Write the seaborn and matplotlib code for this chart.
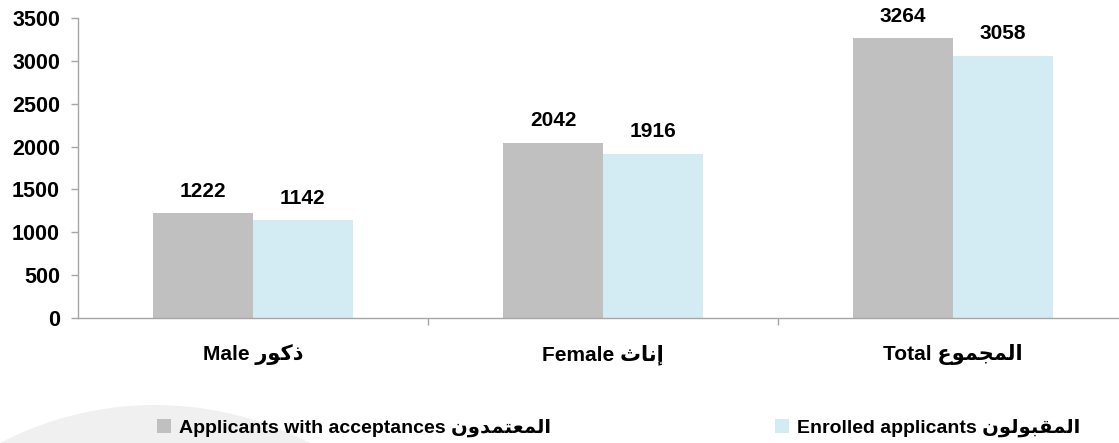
"""Applicants with acceptances vs enrolled applicants, by gender."""

import pandas as pd
import matplotlib.pyplot as plt
from matplotlib.patches import Ellipse
from matplotlib.ticker import FixedLocator
import seaborn as sns


# ====== Data ======
# Arabic words are written in presentation forms, in visual (left-to-right) order,
# because matplotlib does no Arabic shaping on its own.
AR_MALE = "\ufead\ufeee\ufedb\ufeab"                               # ذكور
AR_FEMALE = "\ufe99\ufe8e\ufee7\ufe87"                             # إناث
AR_TOTAL = "\ufec9\ufeee\ufee4\ufea0\ufee4\ufedf\ufe8d"            # المجموع
AR_ACCEPTED = "\ufee5\ufeed\ufeaa\ufee4\ufe98\ufecc\ufee4\ufedf\ufe8d"  # المعتمدون
AR_ENROLLED = "\ufee5\ufeee\ufedf\ufeee\ufe92\ufed8\ufee4\ufedf\ufe8d"  # المقبولون

categories = [f"Male {AR_MALE}", f"Female {AR_FEMALE}", f"Total {AR_TOTAL}"]
series = [f"Applicants with acceptances {AR_ACCEPTED}",
          f"Enrolled applicants {AR_ENROLLED}"]
accepted = [1222, 2042, 3264]
enrolled = [1142, 1916, 3058]
y_ticks = [0, 500, 1000, 1500, 2000, 2500, 3000, 3500]

COLORS = ["#c0c0c0", "#d3ebf2"]
AXIS_GRAY = "#a6a6a6"
W, H = 1119, 443


def build_dataframe():
    """Long table for seaborn."""
    return pd.DataFrame({
        "category": categories * 2,
        "series": [series[0]] * len(categories) + [series[1]] * len(categories),
        "value": accepted + enrolled,
    })


def main():
    sns.set_theme(style="white")
    plt.rcParams["font.family"] = ["Liberation Sans", "DejaVu Sans"]
    plt.rcParams["font.weight"] = "bold"
    plt.rcParams["text.color"] = "black"
    plt.rcParams["xtick.labelcolor"] = "black"
    plt.rcParams["ytick.labelcolor"] = "black"

    df = build_dataframe()

    fig = plt.figure(figsize=(W / 100, H / 100), dpi=100)
    ax = fig.add_axes([78 / W, 125 / H, 1050 / W, 300 / H])

    # светлая дуга в левом нижнем углу
    arc = Ellipse((155 / W, (H - 740) / H), 2 * 335 / W, 2 * 335 / H,
                  transform=fig.transFigure, facecolor="#f0f0f0",
                  edgecolor="none", zorder=0)
    fig.patches.append(arc)

    sns.barplot(data=df, x="category", y="value", hue="series",
                palette=COLORS, saturation=1, width=0.57, linewidth=0, ax=ax)

    for container in ax.containers:
        ax.bar_label(container, padding=9, fontsize=15, fontweight="bold",
                     color="black")

    ax.set_xlim(-0.5, 2.5)
    ax.set_ylim(0, 3500)
    ax.set_yticks(y_ticks)
    ax.set_xlabel("")
    ax.set_ylabel("")

    for side in ["top", "right"]:
        ax.spines[side].set_visible(False)
    for side in ["left", "bottom"]:
        ax.spines[side].set_color(AXIS_GRAY)
        ax.spines[side].set_linewidth(1)

    ax.tick_params(axis="y", left=True, length=5, width=1, color=AXIS_GRAY,
                   pad=8, labelsize=15.5)
    ax.tick_params(axis="x", which="major", bottom=False, pad=13, labelsize=15)
    ax.xaxis.set_minor_locator(FixedLocator([0.5, 1.5]))
    ax.tick_params(axis="x", which="minor", bottom=True, length=5, width=1,
                   color=AXIS_GRAY)
    for lbl in ax.get_xticklabels() + ax.get_yticklabels():
        lbl.set_fontweight("bold")

    handles, labels = ax.get_legend_handles_labels()
    ax.get_legend().remove()
    legend_x = [157, 775]
    for handle, label, x in zip(handles, labels, legend_x):
        fig.legend([handle], [label], loc="center left",
                   bbox_to_anchor=(x / W, (H - 428) / H),
                   frameon=False, borderpad=0, borderaxespad=0,
                   handlelength=0.7, handleheight=0.7, handletextpad=0.45,
                   prop={"weight": "bold", "size": 14})

    fig.savefig("out.png", dpi=100)


if __name__ == "__main__":
    main()
